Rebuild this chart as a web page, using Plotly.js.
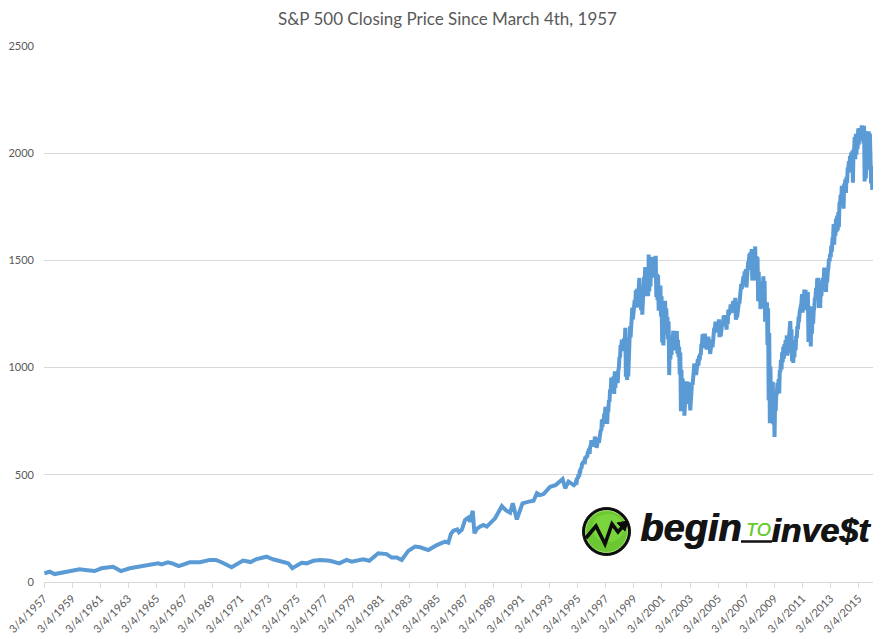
<!DOCTYPE html>
<html>
<head>
<meta charset="utf-8">
<script src="https://cdn.plot.ly/plotly-3.0.1.min.js"></script>
<style>html,body{margin:0;padding:0;background:#fff}</style>
</head>
<body>
<div id="chart" style="width:895px;height:639px"></div>
<script>
// Early history: readings as [decimal year], [close]
const earlyYears = [1957.2,1957.58,1957.93,1958.52,1959.12,1959.71,1960.1,1960.78,1961.26,1962.09,1962.35,1962.64,1963.28,1963.99,1964.7,1965.3,1965.54,1965.99,1966.35,1966.77,1967.55,1968.27,1968.98,1969.41,1969.81,1970.53,1971.35,1971.88,1972.31,1973.02,1973.47,1973.97,1974.56,1974.85,1975.52,1975.87,1976.35,1976.82,1977.53,1978.2,1978.72,1979.08,1979.9,1980.33,1980.97,1981.57,1981.93,1982.28,1982.64,1983.11,1983.59,1983.95,1984.54,1985.14,1985.73,1985.96,1986.15,1986.32,1986.6,1986.72,1986.92,1987.15,1987.39,1987.51,1987.7,1987.82,1987.99,1988.2,1988.46,1988.7,1988.94,1989.29,1989.77,1990.05,1990.36,1990.55,1990.84,1991.05,1991.24,1991.7,1992.03,1992.27,1992.5,1992.74,1993.21,1993.6,1993.93,1994.1,1994.28,1994.52,1994.9];
const earlyClose = [41,48,37,43,53,59,56,51,64,71,62,51,64,71,82,87,82,92,86,74,92,92,103,103,92,69,100,93,107,118,106,99,87,64,90,87,99,103,99,87,103,95,106,99,134,130,114,114,103,145,165,162,149,172,188,183,225,239,245,232,243,289,300,281,332,227,247,258,266,258,274,297,354,335,323,367,292,328,367,375,379,414,405,410,444,452,471,480,437,468,452];
// Swings from January 1995 to January 2016: each month's low and high close, in order
const swings1995 = [460,470,468,487,481,503,490,514,514,533,530,549,550,563,554,565,563,586,576,590,582,609,605,622];
const swings1996 = [598,636,633,661,633,656,631,654,641,678,662,672,626,657,650,671,649,689,689,710,705,757,723,761];
const swings1997 = [737,786,773,817,757,805,737,801,801,848,840,898,885,954,899,947,900,959,877,983,905,971,932,983];
const swings1998 = [927,985,1001,1049,1047,1105,1086,1130,1084,1118,1077,1138,1112,1186,957,1140,942,1066,959,1098,1111,1192,1141,1241];
const swings1999 = [1225,1280,1225,1272,1246,1316,1281,1360,1280,1367,1281,1372,1328,1418,1281,1362,1268,1357,1247,1365,1347,1422,1403,1469];
const swings2000 = [1360,1465,1333,1441,1333,1527,1356,1516,1378,1481,1420,1486,1419,1517,1430,1517,1426,1521,1329,1437,1314,1432,1265,1372];
const swings2001 = [1283,1383,1239,1333,1117,1241,1103,1253,1223,1312,1208,1277,1191,1236,1133,1215,965,1133,1038,1104,1059,1150,1129,1172];
const swings2002 = [1103,1172,1080,1112,1131,1170,1065,1129,1050,1097,968,1070,797,990,834,949,815,924,776,900,873,936,869,935];
const swings2003 = [858,932,829,860,800,895,858,930,920,963,970,1019,975,1009,965,1008,995,1040,1009,1056,1034,1066,1059,1111];
const swings2004 = [1108,1155,1128,1157,1091,1159,1107,1145,1084,1123,1124,1145,1084,1129,1064,1109,1103,1130,1095,1143,1130,1186,1173,1214];
const swings2005 = [1163,1202,1184,1211,1172,1225,1142,1191,1146,1199,1190,1217,1194,1243,1209,1245,1205,1241,1177,1227,1202,1269,1245,1272];
const swings2006 = [1261,1295,1254,1289,1275,1310,1285,1312,1256,1325,1223,1272,1234,1280,1266,1304,1299,1339,1335,1389,1367,1407,1395,1427];
const swings2007 = [1410,1449,1399,1460,1374,1438,1424,1495,1490,1530,1493,1539,1455,1553,1406,1497,1453,1531,1501,1565,1407,1520,1445,1515];
const swings2008 = [1310,1447,1326,1396,1273,1369,1325,1397,1375,1426,1278,1404,1214,1284,1249,1305,1106,1277,848,1161,741,1005,816,919];
const swings2009 = [805,934,735,870,676,832,798,877,879,929,893,946,880,987,979,1036,991,1071,1025,1098,1042,1110,1091,1128];
const swings2010 = [1073,1150,1056,1109,1115,1174,1173,1217,1067,1179,1030,1125,1022,1115,1047,1127,1081,1148,1137,1193,1178,1225,1224,1259];
const swings2011 = [1270,1300,1302,1343,1256,1332,1305,1364,1317,1363,1268,1346,1292,1353,1119,1287,1123,1219,1099,1285,1158,1285,1205,1267];
const swings2012 = [1277,1326,1324,1372,1343,1416,1358,1419,1278,1406,1278,1362,1334,1391,1365,1418,1404,1466,1408,1461,1353,1428,1398,1446];
const swings2013 = [1462,1507,1495,1530,1515,1569,1541,1597,1597,1669,1573,1654,1614,1695,1632,1709,1640,1725,1655,1771,1762,1807,1775,1848];
const swings2014 = [1774,1848,1741,1859,1841,1878,1815,1890,1862,1924,1924,1962,1925,1988,1910,2003,1946,2011,1862,2018,2012,2075,1972,2090];
const swings2015 = [1993,2062,2020,2115,2040,2117,2059,2117,2080,2130,2058,2124,2046,2128,1868,2104,1882,1995,1923,2090,2020,2102,2012,2092];
const swings2016 = [2012,1859,1940,1829];

const tickYears = [1957,1959,1961,1963,1965,1967,1969,1971,1973,1975,1977,1979,1981,1983,1985,1987,1989,1991,1993,1995,1997,1999,2001,2003,2005,2007,2009,2011,2013,2015];
const yTicks = [0,500,1000,1500,2000,2500];

const swingLists = [swings1995,swings1996,swings1997,swings1998,swings1999,swings2000,swings2001,swings2002,swings2003,swings2004,swings2005,swings2006,swings2007,swings2008,swings2009,swings2010,swings2011,swings2012,swings2013,swings2014,swings2015,swings2016];
const x = earlyYears.slice(), y = earlyClose.slice();
swingLists.forEach(function (list, k) {
  list.forEach(function (v, i) { x.push(1995 + k + (i + 0.5) / 24); y.push(v); });
});

// Pixel helpers for the logo
const L = 44, R = 873, T = 46, B = 582;
const px = function (p) { return (p - L) / (R - L); };
const py = function (p) { return (B - p) / (B - T); };
const path = function (pts) {
  return 'M' + pts.map(function (q) { return px(q[0]).toFixed(5) + ',' + py(q[1]).toFixed(5); }).join(' L') + ' Z';
};
const open = function (pts) { return path(pts).replace(' Z', ''); };
const logoShape = function (o) { return Object.assign({xref: 'paper', yref: 'paper', layer: 'above'}, o); };
const ell = function (cx, cy, rx, ry, fill, col, w) {
  return logoShape({type: 'circle', x0: px(cx - rx), x1: px(cx + rx), y0: py(cy + ry), y1: py(cy - ry), fillcolor: fill, line: {color: col, width: w}});
};

const logoShapes = [
  ell(606.5, 531.5, 24, 24, '#0c0c0c', '#0c0c0c', 1),
  ell(606.5, 531.5, 21, 21, '#6cc832', '#a8e67a', 1),
  ell(608, 528, 16, 14, '#7ad43c', '#7ad43c', 0),
  logoShape({type: 'path', path: open([[586,538],[596,526],[605,544],[612,524],[618,532],[625,524]]), line: {color: '#0c0c0c', width: 3.6, shape: 'linear'}}),
  logoShape({type: 'path', path: path([[628,521],[617,523],[625,531]]), fillcolor: '#0c0c0c', line: {color: '#0c0c0c', width: 1}}),
  logoShape({type: 'line', x0: px(741), x1: px(772), y0: py(541.5), y1: py(541.5), line: {color: '#111111', width: 2.5}})
];

const logoFont = function (size, color, family, weight, shadow) {
  return {family: family, size: size, color: color, style: 'italic', weight: weight, shadow: shadow};
};
const sans = '"Liberation Sans", Arial, sans-serif';
const narrow = '"Liberation Sans Narrow", "Liberation Sans", sans-serif';
const logoText = [
  {text: 'begin', px: 639, py: 549.5, font: logoFont(38, '#141414', sans, 700, '0.9px 0 0 #141414')},
  {text: 'TO', px: 745, py: 541, font: logoFont(18, '#66cc2c', narrow, 400, '0.3px 0 0 #66cc2c')},
  {text: 'inve$t', px: 770, py: 549.5, font: logoFont(34, '#141414', sans, 700, '0.9px 0 0 #141414')}
].map(function (t) {
  return {text: t.text, xref: 'paper', yref: 'paper', x: px(t.px), y: py(t.py), xanchor: 'left', yanchor: 'bottom', showarrow: false, borderpad: 0, font: t.font};
});

const font = '"Lato", "Open Sans", sans-serif';
Plotly.newPlot('chart', [{
  x: x, y: y, type: 'scatter', mode: 'lines',
  line: {color: '#5b9bd5', width: 4, shape: 'linear'},
  hoverinfo: 'skip'
}], {
  width: 895, height: 639,
  margin: {l: L, r: 895 - R, t: T, b: 639 - B, pad: 0},
  paper_bgcolor: '#ffffff', plot_bgcolor: '#ffffff',
  font: {family: font, color: '#595959'},
  showlegend: false,
  title: {text: 'S&P 500 Closing Price Since March 4th, 1957', x: 447.5 / 895, xanchor: 'center', y: 1 - 19 / 639, yanchor: 'middle', font: {family: font, size: 17, color: '#595959'}},
  xaxis: {
    type: 'linear', range: [1957.17, 2016.2],
    tickmode: 'array',
    tickvals: tickYears.map(function (yr) { return yr + 0.17; }),
    ticktext: tickYears.map(function (yr) { return '3/4/' + yr; }),
    tickangle: -45, ticks: 'outside', ticklen: 5, tickcolor: '#d9d9d9', tickwidth: 1,
    tickfont: {family: font, size: 11, color: '#595959'},
    showgrid: false, zeroline: false, showline: true, linecolor: '#d9d9d9', linewidth: 1, automargin: false
  },
  yaxis: {
    range: [0, 2500], tickmode: 'array', tickvals: yTicks, ticktext: yTicks.map(String),
    ticks: '', ticklen: 0, ticklabelstandoff: 9,
    tickfont: {family: font, size: 11, color: '#595959'},
    showgrid: true, gridcolor: '#d9d9d9', gridwidth: 1, zeroline: false, showline: false, automargin: false
  },
  shapes: logoShapes,
  annotations: logoText
}, {displayModeBar: false, staticPlot: true});
</script>
</body>
</html>
